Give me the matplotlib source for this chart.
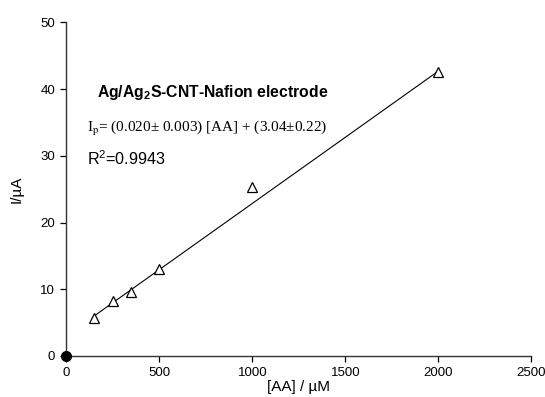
import numpy as np
import matplotlib.pyplot as plt

plt.rcParams['font.family'] = 'Liberation Sans'
plt.rcParams['mathtext.fontset'] = 'custom'
plt.rcParams['mathtext.rm'] = 'Liberation Sans'
plt.rcParams['mathtext.bf'] = 'Liberation Sans:bold'

# data
conc = [150, 250, 350, 500, 1000, 2000]      # [AA] / uM
current = [5.7, 8.2, 9.55, 13.1, 25.3, 42.5]  # I / uA
fit_x = [150, 2000]
fit_y = [6.0, 42.7]
xticks = [0, 500, 1000, 1500, 2000, 2500]
yticks = [0, 10, 20, 30, 40, 50]

fig = plt.figure(figsize=(5.45, 3.97), dpi=100)
ax = fig.add_axes([0.1216, 0.1033, 0.8534, 0.8403])

ax.plot(fit_x, fit_y, color='black', lw=0.8)
ax.plot(conc, current, linestyle='none', marker='^', ms=7, mfc='white',
        mec='black', mew=0.9)
ax.plot([0], [0], 'o', color='black', ms=7, clip_on=False, zorder=5)

ax.set_xlim(0, 2500)
ax.set_ylim(0, 50)
ax.set_xticks(xticks)
ax.set_yticks(yticks)
for s in ['top', 'right']:
    ax.spines[s].set_visible(False)
for s in ['left', 'bottom']:
    ax.spines[s].set_linewidth(1.0)
    ax.spines[s].set_color('#333333')
ax.tick_params(direction='out', length=4, width=0.9, labelsize=9.5, pad=4)

ax.set_xlabel('[AA] / \u00b5M', fontsize=11, labelpad=1)
ax.set_ylabel('I/\u00b5A', fontsize=11, labelpad=12)

ax.text(166, 38.8, r'Ag/Ag$_\mathbf{2}$S-CNT-Nafion electrode', fontsize=11.3,
        fontweight='bold')
ax.text(111, 33.6, 'I$_\\mathrm{p}$= (0.020\u00b1 0.003) [AA] + (3.04\u00b10.22)',
        fontsize=11, family='Liberation Serif', math_fontfamily='stix')
ax.text(111, 28.6, 'R$^2$=0.9943', fontsize=11.6)

fig.savefig('out.png', dpi=100)
